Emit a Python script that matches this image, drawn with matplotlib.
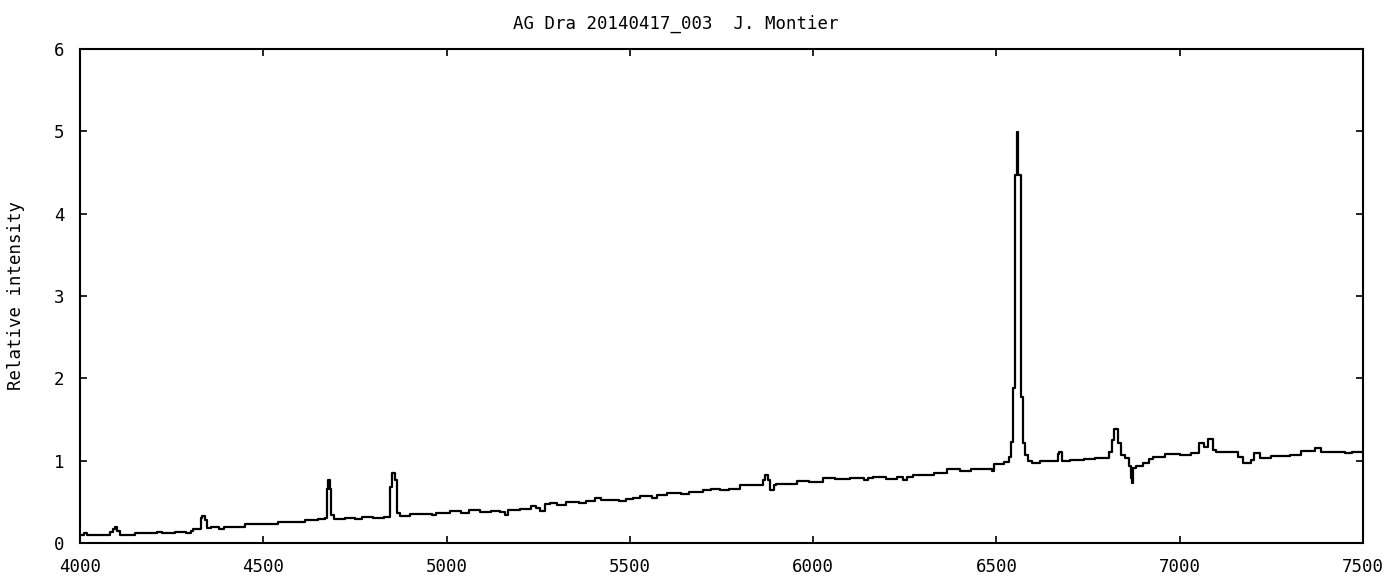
import matplotlib
matplotlib.use("Agg")
import matplotlib.pyplot as plt
import numpy as np

# Spectrum of AG Dra, 2014-04-17 (wavelength in Angstrom, relative flux)
wavelength = [
    4000, 4010, 4018, 4081, 4090, 4096, 4100, 4108, 4149, 4210, 4225, 4260,
    4290, 4303, 4308, 4330, 4334, 4342, 4346, 4357, 4380, 4392, 4449, 4540,
    4560, 4575, 4613, 4650, 4667, 4673, 4677, 4681, 4686, 4694, 4722, 4750,
    4770, 4800, 4830, 4845, 4852, 4859, 4864, 4872, 4900, 4960, 4970, 5009,
    5040, 5060, 5090, 5120, 5146, 5160, 5168, 5200, 5230, 5245, 5255, 5268,
    5282, 5300, 5327, 5360, 5380, 5405, 5420, 5470, 5490, 5509, 5528, 5560,
    5575, 5600, 5640, 5660, 5700, 5720, 5746, 5770, 5800, 5840, 5864, 5868,
    5876, 5882, 5893, 5900, 5955, 5990, 6028, 6060, 6100, 6140, 6150, 6164,
    6200, 6230, 6245, 6255, 6273, 6300, 6330, 6364, 6400, 6430, 6487, 6494,
    6520, 6535, 6541, 6546, 6551, 6556, 6560, 6567, 6572, 6578, 6585, 6596,
    6620, 6668, 6672, 6679, 6700, 6740, 6770, 6806, 6814, 6822, 6833, 6840,
    6852, 6862, 6867, 6869, 6873, 6882, 6900, 6915, 6927, 6960, 7000, 7030,
    7052, 7065, 7078, 7090, 7100, 7160, 7172, 7195, 7204, 7220, 7250, 7300,
    7330, 7370, 7385, 7420, 7450, 7470, 7500,
]
intensity = [
    0.10, 0.12, 0.10, 0.13, 0.17, 0.19, 0.15, 0.10, 0.125, 0.135, 0.125, 0.135,
    0.125, 0.14, 0.165, 0.30, 0.33, 0.28, 0.18, 0.19, 0.17, 0.19, 0.23, 0.26,
    0.25, 0.26, 0.28, 0.29, 0.30, 0.66, 0.77, 0.66, 0.34, 0.29, 0.30, 0.29,
    0.31, 0.30, 0.32, 0.68, 0.85, 0.77, 0.36, 0.33, 0.35, 0.34, 0.36, 0.39,
    0.37, 0.40, 0.38, 0.39, 0.38, 0.34, 0.40, 0.41, 0.45, 0.43, 0.39, 0.47,
    0.49, 0.46, 0.50, 0.49, 0.51, 0.55, 0.52, 0.51, 0.53, 0.55, 0.57, 0.55,
    0.58, 0.61, 0.60, 0.62, 0.64, 0.66, 0.64, 0.66, 0.70, 0.71, 0.76, 0.83,
    0.76, 0.64, 0.70, 0.72, 0.75, 0.74, 0.79, 0.78, 0.79, 0.76, 0.79, 0.80,
    0.78, 0.80, 0.76, 0.80, 0.83, 0.82, 0.85, 0.895, 0.88, 0.90, 0.87, 0.96,
    0.98, 1.05, 1.23, 1.88, 4.47, 4.99, 4.47, 1.77, 1.21, 1.07, 1.00, 0.975,
    0.99, 1.08, 1.11, 1.00, 1.01, 1.02, 1.03, 1.11, 1.25, 1.39, 1.21, 1.07,
    1.03, 0.93, 0.79, 0.73, 0.91, 0.93, 0.97, 1.02, 1.05, 1.08, 1.07, 1.09,
    1.21, 1.17, 1.26, 1.13, 1.10, 1.05, 0.97, 1.01, 1.09, 1.03, 1.06, 1.07,
    1.12, 1.15, 1.10, 1.11, 1.09, 1.11, 1.10,
]

x_ticks = [4000, 4500, 5000, 5500, 6000, 6500, 7000, 7500]
y_ticks = [0, 1, 2, 3, 4, 5, 6]

plt.rcParams["font.family"] = ["DejaVu Sans Mono"]

fig = plt.figure(figsize=(13.95, 5.82), dpi=100)
ax = fig.add_axes([80 / 1395, 39 / 582, 1283 / 1395, 494 / 582])

ax.plot(wavelength, intensity, drawstyle="steps-post", color="black", linewidth=1.6)

ax.set_xlim(4000, 7500)
ax.set_ylim(0, 6)
ax.set_xticks(x_ticks)
ax.set_yticks(y_ticks)
ax.tick_params(direction="in", length=5, width=1.2, top=True, right=True,
               labelsize=12.5, colors="black")
ax.tick_params(axis="x", pad=11)
ax.tick_params(axis="y", pad=11)
for spine in ax.spines.values():
    spine.set_linewidth(1.5)

ax.set_ylabel("Relative intensity", fontsize=12.5)
ax.yaxis.set_label_coords(-55 / 1283, 0.5)
fig.text(676 / 1395, 1 - 24 / 582, "AG Dra 20140417_003  J. Montier",
         ha="center", va="center", fontsize=12.5)

fig.savefig("out.png", dpi=100)
